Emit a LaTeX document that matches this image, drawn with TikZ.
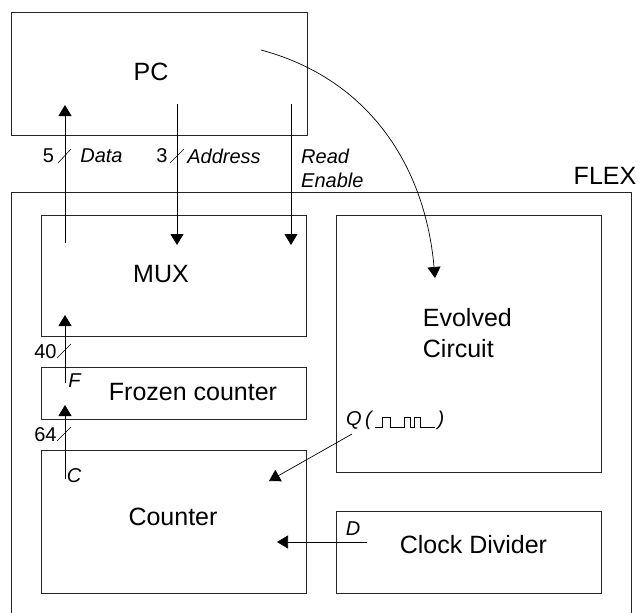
\documentclass[tikz,border=0pt]{standalone}
\usepackage{fontspec}
\setmainfont{Liberation Sans}
\usetikzlibrary{arrows.meta}

\tikzset{
  blk/.style={draw=black!85, line width=0.9pt, inner sep=0pt},
  big/.style={font=\fontsize{25}{31}\selectfont, inner sep=0pt},
  tag/.style={font=\fontsize{20}{24}\selectfont\itshape, inner sep=0pt},
  num/.style={font=\fontsize{20}{24}\selectfont, inner sep=0pt},
  sig/.style={line width=0.9pt, -{Triangle[length=11pt,width=13pt]}},
  bus/.style={line width=0.6pt},
}

\begin{document}
\begin{tikzpicture}[x=1pt, y=-1pt]
\useasboundingbox (0,0) rectangle (641,613);
% boxes
\node[blk, minimum width=295.5pt, minimum height=123pt] (pc) at (159.25,73.5) {};
\node[blk, minimum width=620pt, minimum height=424pt] (flex) at (321,404) {};
\node[blk, minimum width=265pt, minimum height=121pt] (mux) at (173.5,275.5) {};
\node[blk, minimum width=265pt, minimum height=52pt] (frozen) at (173.5,393) {};
\node[blk, minimum width=265pt, minimum height=143pt] (counter) at (173.5,521.5) {};
\node[blk, minimum width=264.5pt, minimum height=257pt] (evolved) at (468.75,343.5) {};
\node[blk, minimum width=264.5pt, minimum height=82pt] (clkdiv) at (468.75,552) {};
% box texts
\node[big] (pctxt) at (151,72) {PC};
\node[big] (flextxt) at (605,176) {FLEX};
\node[big] (muxtxt) at (161,274) {MUX};
\node[big, align=left, anchor=west] (evtxt) at (422.7,333) {Evolved\\Circuit};
\node[big] (frtxt) at (193,392) {Frozen counter};
\node[big] (cnttxt) at (173,517) {Counter};
\node[big] (cdtxt) at (473.5,545) {Clock Divider};
% signal labels
\node[num] (ndata) at (48.5,156) {5};
\node[tag] (ldata) at (101.5,156) {Data};
\node[num] (naddr) at (162,156) {3};
\node[tag] (laddr) at (224,156) {Address};
\node[tag, align=left, anchor=west] (lread) at (301,168) {Read\\Enable};
\node[num] (nf) at (45.5,352) {40};
\node[tag] (lf) at (74.5,381) {F};
\node[num] (nc) at (45.5,435) {64};
\node[tag] (lc) at (74,476) {C};
\node[tag, anchor=west] (lq) at (346,420) {Q\,(};
\node[tag] (lqend) at (441,420) {)};
\node[tag] (ld) at (353,529) {D};
% end points
\coordinate (dsrc) at (65,243);
\coordinate (dtip) at (65,105);
\coordinate (asrc) at (177,104);
\coordinate (atip) at (177,245);
\coordinate (rsrc) at (291,104);
\coordinate (rtip) at (291,245);
\coordinate (psrc) at (261,50);
\coordinate (ptip) at (435,278);
\coordinate (fsrc) at (65,383);
\coordinate (ftip) at (65,315);
\coordinate (csrc) at (65,479);
\coordinate (ctip) at (65,405);
\coordinate (qsrc) at (352,434);
\coordinate (qtip) at (269,481);
\coordinate (dvsrc) at (367,542);
\coordinate (dvtip) at (277,542);
% connectors
\draw[sig] (dsrc) -- (dtip);
\draw[sig] (asrc) -- (atip);
\draw[sig] (rsrc) -- (rtip);
\draw[sig, line width=0.7pt] (psrc) to[out=-15, in=95] (ptip);
\draw[sig] (fsrc) -- (ftip);
\draw[sig] (csrc) -- (ctip);
\draw[sig, line width=0.7pt] (qsrc) -- (qtip);
\draw[sig, line width=0.7pt] (dvsrc) -- (dvtip);
% bus widths
\draw[bus] (58,163) -- (71,149);
\draw[bus] (170,163) -- (184,149);
\draw[bus] (57,358) -- (71,344);
\draw[bus] (57,441) -- (71,427);
% clock wave
\coordinate (wave) at (375,427);
\draw[bus] (wave) -- ++(7,0) -- ++(0,-10) -- ++(8,0) -- ++(0,10) -- ++(14,0)
  -- ++(0,-10) -- ++(6,0) -- ++(0,10) -- ++(4,0) -- ++(0,-10) -- ++(6,0)
  -- ++(0,10) -- ++(15,0);
\end{tikzpicture}
\end{document}
